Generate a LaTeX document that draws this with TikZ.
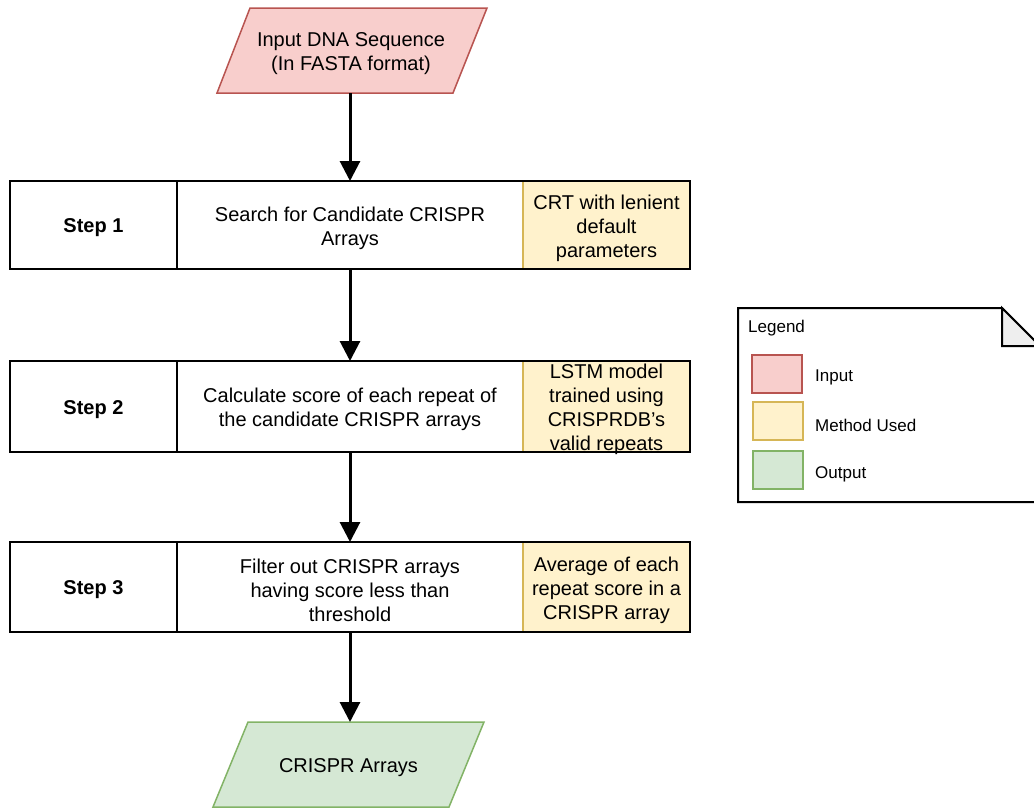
\documentclass[tikz,border=0pt]{standalone}
\usepackage{fontspec}
\setmainfont{Liberation Sans}
\usetikzlibrary{arrows.meta}
\definecolor{inFill}{HTML}{F8CECC}
\definecolor{inLine}{HTML}{B85450}
\definecolor{mFill}{HTML}{FFF2CC}
\definecolor{mLine}{HTML}{D6B656}
\definecolor{outFill}{HTML}{D5E8D4}
\definecolor{outLine}{HTML}{82B366}
\definecolor{foldFill}{HTML}{EEEEEE}
\begin{document}
\begin{tikzpicture}[x=1pt,y=-1pt,
  txt/.style={font=\fontsize{20}{24}\selectfont, align=center, inner sep=0pt, outer sep=0pt},
  tx/.style={label={[txt, yshift=-3pt]center:#1}},
  cellbox/.style={inner sep=0pt, outer sep=0pt, anchor=north west, minimum height=#1},
  methodbox/.style={cellbox=#1, fill=mFill, draw=mLine, line width=1.5pt},
  frame/.style={draw=black, line width=2pt},
  arr/.style={line width=3pt, -{Triangle[length=20pt,width=20pt]}},
  shapeIn/.style={fill=inFill, draw=inLine, line width=1.5pt},
  shapeOut/.style={fill=outFill, draw=outLine, line width=1.5pt},
  legtxt/.style={font=\fontsize{17}{20}\selectfont, inner sep=0pt, anchor=west},
  swatch/.style={minimum width=50pt, minimum height=38pt, line width=1.5pt, inner sep=0pt, anchor=north west}
]
\useasboundingbox (0,0) rectangle (1034,809);

% Input parallelogram
\filldraw[shapeIn] (250,8) -- (487,8) -- (453,93) -- (217,93) -- cycle;
\node[cellbox=85pt, anchor=center, minimum width=200pt, tx={Input DNA Sequence\\(In FASTA format)}] (in) at (351,50.5) {};

% Step 1
\node[cellbox=88pt, minimum width=167pt, tx={\bfseries Step 1}] (s1l) at (10,181) {};
\node[cellbox=88pt, minimum width=346pt, tx={Search for Candidate CRISPR\\Arrays}] (s1m) at (s1l.north east) {};
\node[methodbox=88pt, minimum width=167pt, tx={CRT with lenient\\default\\parameters}] (s1y) at (s1m.north east) {};
\draw[frame] (s1l.north west) rectangle (s1y.south east);
\draw[frame] (s1l.north east) -- (s1l.south east);

% Step 2
\node[cellbox=91pt, minimum width=167pt, tx={\bfseries Step 2}] (s2l) at (10,361) {};
\node[cellbox=91pt, minimum width=346pt, tx={Calculate score of each repeat of\\the candidate CRISPR arrays}] (s2m) at (s2l.north east) {};
\node[methodbox=91pt, minimum width=167pt, tx={LSTM model\\trained using\\CRISPRDB's\\valid repeats}] (s2y) at (s2m.north east) {};
\draw[frame] (s2l.north west) rectangle (s2y.south east);
\draw[frame] (s2l.north east) -- (s2l.south east);

% Step 3
\node[cellbox=90pt, minimum width=167pt, tx={\bfseries Step 3}] (s3l) at (10,542) {};
\node[cellbox=90pt, minimum width=346pt, tx={Filter out CRISPR arrays\\having score less than\\threshold}] (s3m) at (s3l.north east) {};
\node[methodbox=90pt, minimum width=167pt, tx={Average of each\\repeat score in a\\CRISPR array}] (s3y) at (s3m.north east) {};
\draw[frame] (s3l.north west) rectangle (s3y.south east);
\draw[frame] (s3l.north east) -- (s3l.south east);

% Output parallelogram
\filldraw[shapeOut] (248,722) -- (484,722) -- (449,807) -- (213,807) -- cycle;
\node[cellbox=85pt, anchor=center, minimum width=200pt, tx={CRISPR Arrays}] (out) at (348.5,764.5) {};

% Arrows
\draw[arr] (in.south -| s1m.north) -- (s1m.north);
\draw[arr] (s1m.south) -- (s2m.north);
\draw[arr] (s2m.south) -- (s3m.north);
\draw[arr] (s3m.south) -- (s3m.south |- out.north);

% Legend
\filldraw[frame, fill=white] (738,308) -- (1002,308) -- (1040,346) -- (1040,502) -- (738,502) -- cycle;
\filldraw[frame, fill=foldFill, line join=miter] (1002,308) -- (1002,346) -- (1040,346) -- cycle;
\node[legtxt] (legtitle) at (748,328.5) {Legend};
\node[swatch, fill=inFill, draw=inLine] (swin) at (751,354) {};
\node[swatch, fill=mFill, draw=mLine] (swm) at (752,401) {};
\node[swatch, fill=outFill, draw=outLine] (swout) at (752,450) {};
\node[legtxt] (lin) at (815,377.5) {Input};
\node[legtxt] (lm) at (815,425) {Method Used};
\node[legtxt] (lout) at (815,474) {Output};
\end{tikzpicture}
\end{document}
